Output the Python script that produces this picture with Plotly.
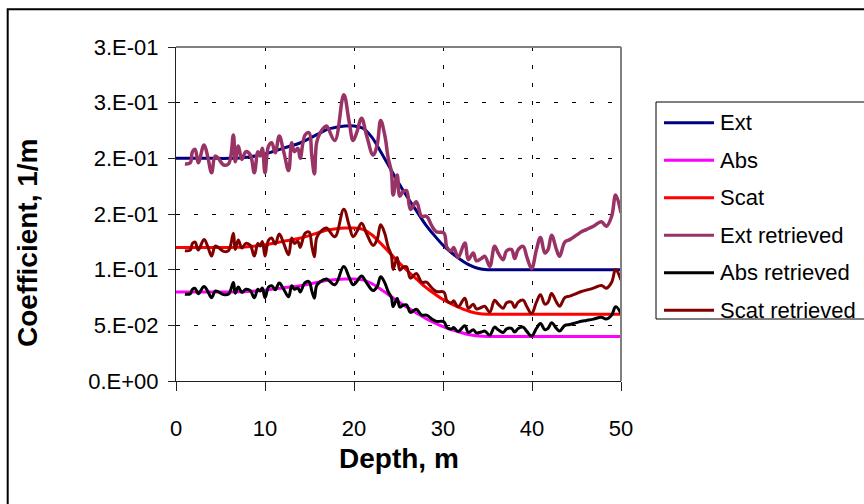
import plotly.graph_objects as go

# Model coefficient profiles (1/m) versus depth (m)
depth_model = [0, 2, 4, 6, 8, 10, 12, 14, 16, 17, 18, 19, 20, 21, 22, 23, 24, 25, 26,
               27, 28, 29, 30, 31, 32, 33, 34, 35, 36, 38, 40, 42, 44, 46, 48, 50]
ext_model = [0.2, 0.2, 0.2, 0.2, 0.201, 0.204, 0.209, 0.214, 0.222, 0.226, 0.228, 0.229,
             0.229, 0.227, 0.219, 0.206, 0.192, 0.178, 0.165, 0.153, 0.141, 0.131, 0.122,
             0.115, 0.109, 0.104, 0.101, 0.1, 0.1, 0.1, 0.1, 0.1, 0.1, 0.1, 0.1, 0.1]
abs_model = [0.08, 0.08, 0.08, 0.08, 0.0804, 0.0816, 0.0836, 0.0856, 0.0888, 0.0904, 0.0912,
             0.0916, 0.0916, 0.0908, 0.0876, 0.0824, 0.0768, 0.0712, 0.066, 0.0612, 0.0564,
             0.0524, 0.0488, 0.046, 0.0436, 0.0416, 0.0404, 0.04, 0.04, 0.04, 0.04, 0.04,
             0.04, 0.04, 0.04, 0.04]
scat_model = [0.12, 0.12, 0.12, 0.12, 0.1206, 0.1224, 0.1254, 0.1284, 0.1332, 0.1356, 0.1368,
              0.1374, 0.1374, 0.1362, 0.1314, 0.1236, 0.1152, 0.1068, 0.099, 0.0918, 0.0846,
              0.0786, 0.0732, 0.069, 0.0654, 0.0624, 0.0606, 0.06, 0.06, 0.06, 0.06, 0.06,
              0.06, 0.06, 0.06, 0.06]

# Retrieved profiles
depth_retrieved = [1.0, 1.6, 1.85, 2.15, 2.5, 3.15, 3.55, 4.0, 4.4, 4.75, 5.35, 5.9, 6.45, 6.65,
                   7.0, 7.4, 7.85, 8.35, 8.8, 9.2, 9.45, 9.7, 10.0, 10.4, 10.75, 11.15, 11.6,
                   12.1, 12.65, 13.0, 13.3, 13.7, 13.95, 14.5, 14.95, 15.25, 15.55, 15.8, 16.2,
                   16.9, 17.1, 17.85, 18.85, 19.45, 19.9, 20.3, 20.85, 21.4, 22.15, 22.6, 23.0,
                   23.45, 23.85, 24.2, 24.4, 24.85, 25.15, 25.5, 25.9, 26.35, 27.0, 27.6, 28.15,
                   28.7, 29.25, 30.1, 30.45, 30.95, 31.2, 31.7, 32.45, 32.85, 33.4, 33.75, 34.3,
                   34.7, 35.25, 35.8, 36.2, 36.75, 37.15, 37.7, 38.05, 38.45, 39.0, 39.4, 39.95,
                   40.5, 40.95, 41.45, 41.8, 42.2, 42.75, 43.1, 43.7, 44.25, 45.0, 45.55, 46.1,
                   46.9, 47.8, 48.35, 48.95, 49.4, 50.0]
ext_retrieved = [0.195, 0.196, 0.206, 0.208, 0.196, 0.212, 0.202, 0.187, 0.202, 0.2, 0.194,
                 0.195, 0.221, 0.197, 0.211, 0.199, 0.206, 0.203, 0.187, 0.206, 0.202, 0.209,
                 0.187, 0.211, 0.214, 0.205, 0.22, 0.206, 0.189, 0.214, 0.206, 0.209, 0.2,
                 0.221, 0.223, 0.203, 0.186, 0.214, 0.223, 0.229, 0.227, 0.216, 0.257, 0.233,
                 0.216, 0.223, 0.236, 0.221, 0.203, 0.212, 0.234, 0.221, 0.2, 0.188, 0.167,
                 0.185, 0.166, 0.17, 0.171, 0.154, 0.161, 0.148, 0.148, 0.14, 0.134, 0.133,
                 0.12, 0.117, 0.12, 0.111, 0.124, 0.109, 0.115, 0.108, 0.11, 0.112, 0.103,
                 0.121, 0.115, 0.109, 0.117, 0.118, 0.11, 0.118, 0.121, 0.112, 0.101, 0.118,
                 0.129, 0.115, 0.118, 0.131, 0.118, 0.112, 0.125, 0.127, 0.131, 0.134, 0.136,
                 0.139, 0.143, 0.139, 0.148, 0.167, 0.151]
abs_retrieved = [0.078, 0.0784, 0.0824, 0.0832, 0.0784, 0.0848, 0.0808, 0.0748, 0.0808, 0.08,
                 0.0776, 0.078, 0.0884, 0.0788, 0.0844, 0.0796, 0.0824, 0.0812, 0.0748, 0.0824,
                 0.0808, 0.0836, 0.0748, 0.0844, 0.0856, 0.082, 0.088, 0.0824, 0.0756, 0.0856,
                 0.0824, 0.0836, 0.08, 0.0884, 0.0892, 0.0812, 0.0744, 0.0856, 0.0892, 0.0916,
                 0.0908, 0.0864, 0.1028, 0.0932, 0.0864, 0.0892, 0.0944, 0.0884, 0.0812, 0.0848,
                 0.0936, 0.0884, 0.08, 0.0752, 0.0668, 0.074, 0.0664, 0.068, 0.0684, 0.0616,
                 0.0644, 0.0592, 0.0592, 0.056, 0.0536, 0.0532, 0.048, 0.0468, 0.048, 0.0444,
                 0.0496, 0.0436, 0.046, 0.0432, 0.044, 0.0448, 0.0412, 0.0484, 0.046, 0.0436,
                 0.0468, 0.0472, 0.044, 0.0472, 0.0484, 0.0448, 0.0404, 0.0472, 0.0516, 0.046,
                 0.0472, 0.0524, 0.0472, 0.0448, 0.05, 0.0508, 0.0524, 0.0536, 0.0544, 0.0556,
                 0.0572, 0.0556, 0.0592, 0.0668, 0.0604]
scat_retrieved = [0.117, 0.1176, 0.1236, 0.1248, 0.1176, 0.1272, 0.1212, 0.1122, 0.1212, 0.12,
                  0.1164, 0.117, 0.1326, 0.1182, 0.1266, 0.1194, 0.1236, 0.1218, 0.1122, 0.1236,
                  0.1212, 0.1254, 0.1122, 0.1266, 0.1284, 0.123, 0.132, 0.1236, 0.1134, 0.1284,
                  0.1236, 0.1254, 0.12, 0.1326, 0.1338, 0.1218, 0.1116, 0.1284, 0.1338, 0.1374,
                  0.1362, 0.1296, 0.1542, 0.1398, 0.1296, 0.1338, 0.1416, 0.1326, 0.1218, 0.1272,
                  0.1404, 0.1326, 0.12, 0.1128, 0.1002, 0.111, 0.0996, 0.102, 0.1026, 0.0924,
                  0.0966, 0.0888, 0.0888, 0.084, 0.0804, 0.0798, 0.072, 0.0702, 0.072, 0.0666,
                  0.0744, 0.0654, 0.069, 0.0648, 0.066, 0.0672, 0.0618, 0.0726, 0.069, 0.0654,
                  0.0702, 0.0708, 0.066, 0.0708, 0.0726, 0.0672, 0.0606, 0.0708, 0.0774, 0.069,
                  0.0708, 0.0786, 0.0708, 0.0672, 0.075, 0.0762, 0.0786, 0.0804, 0.0816, 0.0834,
                  0.0858, 0.0834, 0.0888, 0.1002, 0.0906]

y_tick_vals = [0, 0.05, 0.1, 0.15, 0.2, 0.25, 0.3]
y_tick_text = ["0.E+00", "5.E-02", "1.E-01", "2.E-01", "2.E-01", "3.E-01", "3.E-01"]
x_tick_vals = [0, 10, 20, 30, 40, 50]

FONT = "Arial, 'Liberation Sans', sans-serif"

# name, depths, values, colour, width, spline smoothing
series = [
    ("Ext", depth_model, ext_model, "#000080", 3, 0.8),
    ("Abs", depth_model, abs_model, "#FF00FF", 3, 0.8),
    ("Scat", depth_model, scat_model, "#FF0000", 3, 0.8),
    ("Ext retrieved", depth_retrieved, ext_retrieved, "#993366", 3.5, 1.1),
    ("Abs retrieved", depth_retrieved, abs_retrieved, "#000000", 3, 1.1),
    ("Scat retrieved", depth_retrieved, scat_retrieved, "#800000", 3, 1.1),
]

# Figure geometry (pixels)
W, H = 864, 504
ML, MR, MT, MB = 176, 243, 47, 123
PW, PH = W - ML - MR, H - MT - MB


def px_x(px):
    return (px - ML) / PW


def px_y(py):
    return (H - MB - py) / PH


fig = go.Figure()
for name, xs, ys, color, width, smooth in series:
    fig.add_trace(go.Scatter(
        x=xs, y=ys, name=name, mode="lines", showlegend=False,
        line=dict(color=color, width=width, shape="spline", smoothing=smooth),
    ))

fig.update_layout(
    width=W, height=H,
    margin=dict(l=ML, r=MR, t=MT, b=MB),
    paper_bgcolor="white", plot_bgcolor="white",
    font=dict(family=FONT, color="black"),
    showlegend=False,
    xaxis=dict(
        range=[0, 50], tickvals=x_tick_vals, ticks="outside", ticklen=9,
        tickcolor="#222", tickwidth=1, showline=True, linecolor="#222", linewidth=1,
        showgrid=True, gridcolor="black", gridwidth=1, griddash="4px,14px",
        zeroline=False, tickfont=dict(size=22, family=FONT), ticklabelstandoff=19,
    ),
    yaxis=dict(
        range=[0, 0.3], tickvals=y_tick_vals, ticktext=y_tick_text, ticks="outside",
        ticklen=7, tickcolor="#222", tickwidth=1, showline=True, linecolor="#222",
        linewidth=1, showgrid=True, gridcolor="black", gridwidth=1, griddash="4px,14px",
        zeroline=False, tickfont=dict(size=22, family=FONT), ticklabelstandoff=5,
    ),
)

# Plot-area border (top and right) in grey
fig.add_shape(type="line", xref="paper", yref="paper", x0=0, x1=1, y0=1, y1=1,
              line=dict(color="#808080", width=2), layer="above")
fig.add_shape(type="line", xref="paper", yref="paper", x0=1, x1=1, y0=0, y1=1,
              line=dict(color="#808080", width=2), layer="above")

# Outer chart frame
fig.add_shape(type="rect", xref="paper", yref="paper",
              x0=px_x(7.7), x1=px_x(880), y0=px_y(515), y1=px_y(9.3),
              line=dict(color="black", width=2), fillcolor="rgba(0,0,0,0)", layer="above")

# Legend box with line samples and labels
fig.add_shape(type="rect", xref="paper", yref="paper",
              x0=px_x(656), x1=px_x(875), y0=px_y(319), y1=px_y(102),
              line=dict(color="black", width=1), fillcolor="white", layer="above")
row_top, row_step = 122.7, 37.5
for i, (name, _, _, color, width, _) in enumerate(series):
    ry = px_y(row_top + i * row_step)
    fig.add_shape(type="line", xref="paper", yref="paper",
                  x0=px_x(664), x1=px_x(714), y0=ry, y1=ry,
                  line=dict(color=color, width=3), layer="above")
    fig.add_annotation(text=name, xref="paper", yref="paper", x=px_x(718), y=ry,
                       xanchor="left", yanchor="middle", showarrow=False,
                       font=dict(family=FONT, size=22, color="black"))

# Axis titles
fig.add_annotation(text="<b>Depth, m</b>", xref="paper", yref="paper",
                   x=0.5, y=px_y(458), xanchor="center", yanchor="middle", showarrow=False,
                   font=dict(family=FONT, size=28, color="black"))
fig.add_annotation(text="<b>Coefficient, 1/m</b>", xref="paper", yref="paper",
                   x=px_x(27), y=px_y(243), xanchor="center", yanchor="middle",
                   textangle=-90, showarrow=False,
                   font=dict(family=FONT, size=28, color="black"))

fig.write_html("out.html")
